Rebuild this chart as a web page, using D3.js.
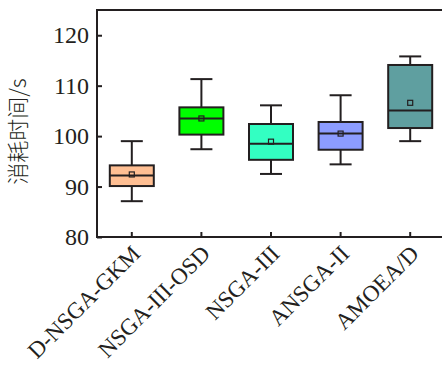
<!DOCTYPE html>
<html><head><meta charset="utf-8">
<script src="https://cdn.jsdelivr.net/npm/d3@7"></script>
<style>body{margin:0;background:#fff}svg{display:block}</style>
</head><body>
<svg id="c" width="442" height="367"></svg>
<script>
const categories = ["D-NSGA-GKM","NSGA-III-OSD","NSGA-III","ANSGA-II","AMOEA/D"];
const whiskerLow = [87.1, 97.4, 92.5, 94.4, 99.0];
const q1 = [90.1, 100.3, 95.3, 97.3, 101.6];
const median = [92.2, 103.5, 98.5, 100.5, 105.1];
const q3 = [94.2, 105.7, 102.4, 102.8, 114.1];
const whiskerHigh = [99.0, 111.3, 106.1, 108.1, 115.8];
const means = [92.4, 103.5, 98.9, 100.5, 106.6];
const colors = ["#FFBF93","#00FF00","#33FFC2","#8C9CFF","#5F9FA0"];
const yTicks = [80, 90, 100, 110, 120];

const svg = d3.select("#c");
const L = 97, T = 10, R = 445, B = 237;
const x = d3.scaleBand().domain(categories).range([L, R]);
const y = d3.scaleLinear().domain([80, 125]).range([B, T]);
const ink = "#231F20";
const serif = "'Liberation Serif','Times New Roman',serif";

// frame
svg.append("rect").attr("x", L).attr("y", T).attr("width", R - L).attr("height", B - T)
  .attr("fill", "none").attr("stroke", ink).attr("stroke-width", 2);

// y axis
const yAxis = svg.append("g").attr("transform", `translate(${L},0)`)
  .call(d3.axisLeft(y).tickValues(yTicks).tickSize(-5).tickPadding(8));
yAxis.select(".domain").remove();
yAxis.selectAll("line").attr("stroke", ink).attr("stroke-width", 2);
yAxis.selectAll("text").attr("font-family", serif).attr("font-size", 24).attr("fill", ink);

// x axis
const xAxis = svg.append("g").attr("transform", `translate(0,${B})`)
  .call(d3.axisBottom(x).tickSize(-5));
xAxis.select(".domain").remove();
xAxis.selectAll("line").attr("stroke", ink).attr("stroke-width", 2);
xAxis.selectAll("text").attr("font-family", serif).attr("font-size", 23).attr("fill", ink)
  .attr("text-anchor", "end").attr("x", 0).attr("y", 0).attr("dy", 0)
  .attr("transform", "translate(10,18) rotate(-45)");

// boxes
const bw = 44, cw = 22;
const g = svg.append("g");
categories.forEach((c, i) => {
  const cx = x(c) + x.bandwidth() / 2;
  const gg = g.append("g");
  gg.append("line").attr("x1", cx).attr("x2", cx).attr("y1", y(whiskerHigh[i])).attr("y2", y(q3[i]))
    .attr("stroke", ink).attr("stroke-width", 2);
  gg.append("line").attr("x1", cx).attr("x2", cx).attr("y1", y(q1[i])).attr("y2", y(whiskerLow[i]))
    .attr("stroke", ink).attr("stroke-width", 2);
  [whiskerHigh[i], whiskerLow[i]].forEach(v => {
    gg.append("line").attr("x1", cx - cw / 2).attr("x2", cx + cw / 2).attr("y1", y(v)).attr("y2", y(v))
      .attr("stroke", ink).attr("stroke-width", 2);
  });
  gg.append("rect").attr("x", cx - bw / 2).attr("width", bw).attr("y", y(q3[i])).attr("height", y(q1[i]) - y(q3[i]))
    .attr("fill", colors[i]).attr("stroke", ink).attr("stroke-width", 2);
  gg.append("line").attr("x1", cx - bw / 2).attr("x2", cx + bw / 2).attr("y1", y(median[i])).attr("y2", y(median[i]))
    .attr("stroke", ink).attr("stroke-width", 2);
  gg.append("rect").attr("x", cx - 2.5).attr("y", y(means[i]) - 2.5).attr("width", 5).attr("height", 5)
    .attr("fill", "none").attr("stroke", ink).attr("stroke-width", 1.2);
});

// y label
svg.append("text").attr("transform", `translate(26,${(T + B) / 2 + 8}) rotate(-90)`)
  .attr("text-anchor", "middle").attr("font-size", 22).attr("fill", ink)
  .attr("font-family", "'Noto Sans CJK SC',sans-serif").attr("font-weight", 300)
  .text("消耗时间/s");
</script>
</body></html>
